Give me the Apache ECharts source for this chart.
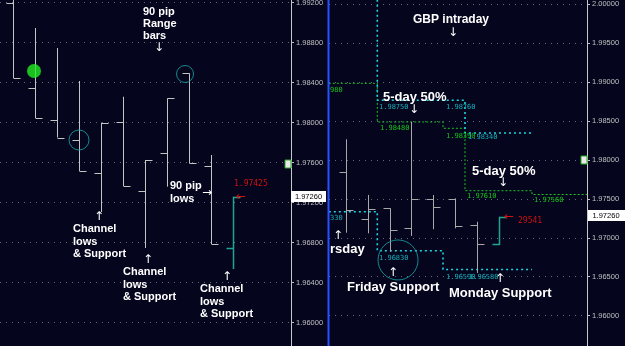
<!DOCTYPE html>
<html><head><meta charset="utf-8">
<script src="https://cdn.jsdelivr.net/npm/echarts@6/dist/echarts.min.js"></script>
<style>html,body{margin:0;padding:0;background:#05051e;overflow:hidden}#c{width:625px;height:346px}</style>
</head><body><div id="c"></div><script>
// ---- Left panel: 90 pip range bars ----
const rangeBars = ['R1','R2','R3','R4','R5','R6','R7','R8','R9','R10','R11'];
const rbOpen  = [1.99194,1.98347,1.98027,1.97827,1.97497,1.98010,1.97320,1.97700,1.98494,1.97570,1.96750];
const rbHigh  = [1.99347,1.98947,1.98747,1.98417,1.98000,1.98260,1.97627,1.98244,1.98494,1.97677,1.97260];
const rbLow   = [1.98447,1.98047,1.97852,1.97517,1.97107,1.97367,1.96747,1.97360,1.97594,1.96787,1.96537];
const rbClose = [1.98447,1.98047,1.97852,1.97517,1.98000,1.97367,1.97627,1.98244,1.97594,1.96787,1.97260];
const leftTicks = [1.992,1.988,1.984,1.980,1.976,1.972,1.968,1.964,1.960];

// ---- Right panel: GBP intraday bars ----
const gbpBars = ['G1','G2','G3','G4','G5','G6','G7','G8'];
const gbpOpen  = [1.97840,1.97241,1.97378,1.97121,1.97497,1.97494,1.97160,1.96916];
const gbpHigh  = [1.98264,1.97549,1.97378,1.98489,1.97549,1.97506,1.97206,1.97270];
const gbpLow   = [1.97065,1.97057,1.96821,1.97023,1.97109,1.97121,1.96548,1.96907];
const gbpClose = [1.97356,1.97373,1.97100,1.97501,1.97391,1.97151,1.96920,1.97270];
const rightTicks = [2.000,1.995,1.990,1.985,1.980,1.975,1.970,1.965,1.960];

// Level lines (segment boundaries in bar units, level per segment)
const cyanHiX = [-0.77,1.443,5.447,8.507];
const cyanHiY = [2.02000,1.98765,1.98344];
const cyanLoX = [-0.77,1.443,4.443,8.507];
const cyanLoY = [1.97334,1.96834,1.96593];
const greenX  = [-0.77,1.443,4.443,5.447,8.507,11.02];
const greenY  = [1.98982,1.98486,1.98405,1.97604,1.97555];

// Annotation rings / dot [x(bar units), value, size]
const leftRings = [[3,1.97827,20],[7.82,1.98487,17]];
const leftDot = [[0.955,1.98517,14]];
const rightRings = [[2.39,1.96715,40]];
const lastPrice = 1.97260;

function steps(xs, ys){ const p=[]; for(let i=0;i<ys.length;i++){p.push([xs[i],ys[i]]);p.push([xs[i+1],ys[i]]);} return p; }
function ohlc(o,h,l,c){ return o.map((v,i)=>[i,v,h[i],l[i],c[i]]); }

function makeRender(grey, last, lastColor){
  return function(params, api){
    const x=api.value(0);
    const o=api.coord([x,api.value(1)]), h=api.coord([x,api.value(2)]), l=api.coord([x,api.value(3)]), c=api.coord([x,api.value(4)]);
    const px=Math.round(h[0])+0.5, tw=7;
    const isLast = params.dataIndex===last;
    const st={stroke:isLast?lastColor:grey,lineWidth:isLast?1.5:1};
    return {type:'group',children:[
      {type:'line',shape:{x1:px,y1:h[1],x2:px,y2:l[1]},style:st},
      {type:'line',shape:{x1:px-tw,y1:Math.round(o[1])+0.5,x2:px,y2:Math.round(o[1])+0.5},style:st},
      {type:'line',shape:{x1:px,y1:Math.round(c[1])+0.5,x2:px+tw,y2:Math.round(c[1])+0.5},style:st}
    ]};
  };
}

const axisFont = {color:'#c0c0c0',fontSize:7.5,fontFamily:'Liberation Sans, Arial'};
const fmt = v=>v.toFixed(5);

function T(text,x,y,opt){
  opt=opt||{};
  return {type:'text',z:100,style:{text:text,x:x,y:y,fill:opt.fill||'#ffffff',
    font:opt.font||'bold 11px "Liberation Sans", Arial',
    align:opt.align||'left',textAlign:opt.align||'left',verticalAlign:'middle',textVerticalAlign:'middle'}};
}
const small = '7px "DejaVu Sans Mono", monospace';
const redF = '8px "DejaVu Sans Mono", monospace';
const big = 'bold 13px "Liberation Sans", Arial';
const arrowF = '12px "DejaVu Sans", sans-serif';

const chart = echarts.init(document.getElementById('c'),null,{renderer:'canvas'});
chart.setOption({
  backgroundColor:'#05051e',
  animation:false,
  grid:[
    {left:0,width:291,top:-37.3,height:400,outerBoundsMode:'none',containLabel:false},
    {left:329,width:258,top:-34.96,height:389.6,outerBoundsMode:'none',containLabel:false}
  ],
  xAxis:[
    {gridIndex:0,type:'value',min:-0.5909,max:12.636,show:false},
    {gridIndex:1,type:'value',min:-0.7626,max:11.018,show:false}
  ],
  yAxis:[
    {gridIndex:0,type:'value',position:'right',min:1.956,max:1.996,interval:0.004,
     axisLine:{show:true,onZero:false,lineStyle:{color:'#c8c8c8',width:1}},
     axisTick:{show:true,length:3,lineStyle:{color:'#c0c0c0'}},
     axisLabel:Object.assign({margin:5,formatter:fmt},axisFont),
     splitLine:{show:true,lineStyle:{color:'#66667a',type:[1,5]}}},
    {gridIndex:1,type:'value',position:'right',min:1.955,max:2.005,interval:0.005,
     axisLine:{show:true,onZero:false,lineStyle:{color:'#c8c8c8',width:1}},
     axisTick:{show:true,length:3,lineStyle:{color:'#c0c0c0'}},
     axisLabel:Object.assign({margin:5,formatter:fmt},axisFont),
     splitLine:{show:true,lineStyle:{color:'#66667a',type:[1,5]}}}
  ],
  series:[
    {type:'line',xAxisIndex:1,yAxisIndex:1,data:steps(greenX,greenY),symbol:'none',
     lineStyle:{color:'#22c022',width:1,type:[2,2]},z:3},
    {type:'line',xAxisIndex:1,yAxisIndex:1,data:steps(cyanHiX,cyanHiY),symbol:'none',
     lineStyle:{color:'#1ad8e0',width:1.6,type:[2,3]},z:4},
    {type:'line',xAxisIndex:1,yAxisIndex:1,data:steps(cyanLoX,cyanLoY),symbol:'none',
     lineStyle:{color:'#1ad8e0',width:1.6,type:[2,3]},z:4},
    {type:'custom',xAxisIndex:0,yAxisIndex:0,data:ohlc(rbOpen,rbHigh,rbLow,rbClose),
     renderItem:makeRender('#c4c4c4',rangeBars.length-1,'#20a590'),clip:true,z:5},
    {type:'custom',xAxisIndex:1,yAxisIndex:1,data:ohlc(gbpOpen,gbpHigh,gbpLow,gbpClose),
     renderItem:makeRender('#a8a8a8',gbpBars.length-1,'#20a590'),clip:true,z:5},
    {type:'scatter',xAxisIndex:0,yAxisIndex:0,data:leftRings,symbolSize:d=>d[2],
     itemStyle:{color:'rgba(0,0,0,0)',borderColor:'#17a8a8',borderWidth:1},z:6},
    {type:'scatter',xAxisIndex:0,yAxisIndex:0,data:leftDot,symbolSize:d=>d[2],
     itemStyle:{color:'#22ee22'},z:6},
    {type:'scatter',xAxisIndex:1,yAxisIndex:1,data:rightRings,symbolSize:d=>d[2],
     itemStyle:{color:'rgba(0,0,0,0)',borderColor:'#17a8a8',borderWidth:1},z:6}
  ],
  graphic:[
    {type:'line',z:90,shape:{x1:328.5,y1:0,x2:328.5,y2:346},style:{stroke:'#2850ff',lineWidth:2}},
    // price boxes
    {type:'rect',z:95,shape:{x:291,y:191,width:35,height:11},style:{fill:'#ffffff'}},
    T(lastPrice.toFixed(5),308.5,196.7,{fill:'#000000',font:'7.5px "Liberation Sans", Arial',align:'center'}),
    {type:'rect',z:95,shape:{x:588,y:210,width:37,height:11},style:{fill:'#ffffff'}},
    T(lastPrice.toFixed(5),606,215.7,{fill:'#000000',font:'7.5px "Liberation Sans", Arial',align:'center'}),
    // small markers
    {type:'rect',z:95,shape:{x:285,y:160,width:6,height:8},style:{fill:'#e8e8e8',stroke:'#22aa22',lineWidth:1}},
    {type:'rect',z:95,shape:{x:581,y:156,width:6,height:8},style:{fill:'#e8e8e8',stroke:'#22aa22',lineWidth:1}},
    // left annotations
    T('90 pip',143,12), T('Range',143,24), T('bars',143,36), T('↓',159,48,{font:arrowF,align:'center'}),
    T('↑',99,217,{font:arrowF,align:'center'}), T('Channel',73,229), T('lows',73,242), T('& Support',73,254),
    T('↑',148,260,{font:arrowF,align:'center'}), T('Channel',123,272), T('lows',123,285), T('& Support',123,297),
    T('90 pip',170,186), T('lows',170,199), T('→',207,193,{font:arrowF,align:'center'}),
    T('↑',227,277,{font:arrowF,align:'center'}), T('Channel',200,289), T('lows',200,302), T('& Support',200,314),
    T('1.97425',234,184,{fill:'#d01010',font:redF}), T('←',241,197,{fill:'#d01010',font:arrowF,align:'center'}),
    // right annotations
    T('GBP intraday',413,20,{font:'bold 12px "Liberation Sans", Arial'}), T('↓',453,33,{font:arrowF,align:'center'}),
    T('5-day 50%',383,97,{font:big}), T('↓',414,110,{font:arrowF,align:'center'}),
    T('5-day 50%',472,171,{font:big}), T('↓',503,183,{font:arrowF,align:'center'}),
    T('rsday',330,249,{font:big}), T('↑',338,236,{font:arrowF,align:'center'}),
    T('Friday Support',347,287,{font:big}), T('↑',393,273,{font:arrowF,align:'center'}),
    T('Monday Support',449,293,{font:big}), T('↑',500,279,{font:arrowF,align:'center'}),
    T('←',509,216.7,{fill:'#d01010',font:arrowF,align:'center'}), T('29541',518,221,{fill:'#d01010',font:redF}),
    // level labels
    T('980',330,90,{fill:'#18c818',font:small}),
    T('1.98480',380,128,{fill:'#18c818',font:small}),
    T('1.98390',446,136,{fill:'#18c818',font:small}),
    T('1.98340',468,137,{fill:'#18b0b8',font:small}),
    T('1.98750',379,107,{fill:'#18b0b8',font:small}),
    T('1.98760',446,107,{fill:'#18b0b8',font:small}),
    T('1.97610',467,196,{fill:'#18c818',font:small}),
    T('1.97560',534,200,{fill:'#18c818',font:small}),
    T('330',330,218,{fill:'#18b0b8',font:small}),
    T('1.96830',379,258,{fill:'#18b0b8',font:small}),
    T('1.96590',446,277,{fill:'#18b0b8',font:small}),
    T('1.96580',469,277,{fill:'#18b0b8',font:small})
  ]
});
</script></body></html>
